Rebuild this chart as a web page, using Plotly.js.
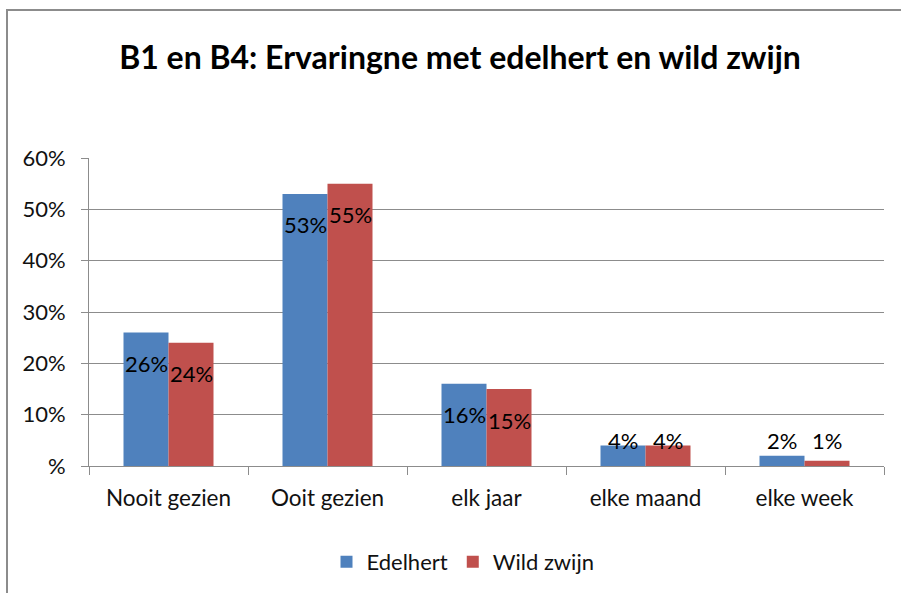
<!DOCTYPE html>
<html>
<head>
<meta charset="utf-8">
<script src="https://cdn.plot.ly/plotly-3.0.1.min.js"></script>
<style>
  html, body { margin: 0; padding: 0; background: #fff; }
  #chart { width: 901px; height: 593px; position: absolute; left: 0; top: 0; }
  #frame { position: absolute; left: 6px; top: 9px; width: 1000px; height: 700px;
           border-left: 2px solid #8c8c8c; border-top: 2px solid #8c8c8c; pointer-events: none; }
</style>
</head>
<body>
<div id="chart"></div>
<div id="frame"></div>
<script>
const categories = ["Nooit gezien", "Ooit gezien", "elk jaar", "elke maand", "elke week"];
const edelhert = [26, 53, 16, 4, 2];
const wildZwijn = [24, 55, 15, 4, 1];
const seriesNames = ["Edelhert", "Wild zwijn"];
const tickValues = [0, 10, 20, 30, 40, 50, 60];
const tickLabels = ["%", "10%", "20%", "30%", "40%", "50%", "60%"];

const FONT = "Lato, 'Open Sans', sans-serif";
const colors = ["#4F81BD", "#C0504D"];

const traces = [edelhert, wildZwijn].map((vals, k) => ({
  type: "bar",
  name: seriesNames[k],
  x: categories,
  y: vals,
  marker: { color: colors[k] },
  hoverinfo: "skip"
}));

// data labels (Excel "inside end", clamped above the baseline for short bars)
const pxPerUnit = 308.5 / 60;
const half = 0.1415;
const annotations = [];
[edelhert, wildZwijn].forEach((vals, k) => {
  vals.forEach((v, i) => {
    annotations.push({
      xref: "x", yref: "y",
      x: i + (k === 0 ? -half : half),
      y: v,
      yshift: -Math.min(31, v * pxPerUnit - 26),
      text: v + "%",
      showarrow: false,
      xanchor: "center", yanchor: "middle",
      font: { family: FONT, size: 22, color: "#000" }
    });
  });
});

const layout = {
  width: 901, height: 593,
  margin: { l: 89, r: 17, t: 158, b: 127 },
  paper_bgcolor: "#fff", plot_bgcolor: "#fff",
  title: {
    text: "<b>B1 en B4: Ervaringne met edelhert en wild zwijn</b>",
    font: { family: FONT, size: 32, color: "#000" },
    xref: "container", x: 460 / 901, xanchor: "center",
    yref: "container", y: 1 - 58 / 593, yanchor: "middle"
  },
  barmode: "group",
  bargap: 0.434,
  bargroupgap: 0,
  showlegend: true,
  legend: {
    orientation: "h",
    xref: "container", x: 463 / 901, xanchor: "center",
    yref: "container", y: 1 - 562 / 593, yanchor: "middle",
    font: { family: FONT, size: 22, color: "#111" },
    itemclick: false, itemdoubleclick: false
  },
  xaxis: {
    type: "category",
    showgrid: false,
    showline: true, linecolor: "#8c8c8c", linewidth: 1,
    ticks: "outside", ticklen: 8, tickcolor: "#8c8c8c",
    tickson: "boundaries",
    tickfont: { family: FONT, size: 22.5, color: "#111" },
    ticklabelstandoff: 12,
    fixedrange: true
  },
  yaxis: {
    range: [0, 60],
    tickvals: tickValues,
    ticktext: tickLabels,
    showgrid: true, gridcolor: "#8c8c8c", gridwidth: 1,
    showline: true, linecolor: "#8c8c8c", linewidth: 1,
    ticks: "outside", ticklen: 7, tickcolor: "#8c8c8c",
    tickfont: { family: FONT, size: 22, color: "#111" },
    ticklabelstandoff: 11,
    zeroline: false,
    fixedrange: true
  },
  annotations: annotations
};

Plotly.newPlot("chart", traces, layout, { displayModeBar: false, staticPlot: true });
</script>
</body>
</html>
